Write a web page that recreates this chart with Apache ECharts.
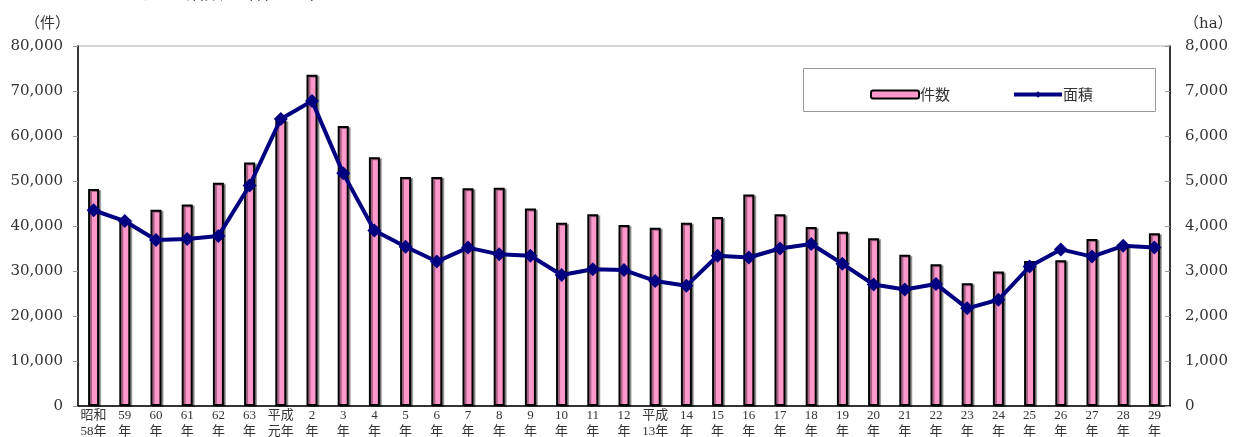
<!DOCTYPE html>
<html>
<head>
<meta charset="utf-8">
<script src="https://cdn.jsdelivr.net/npm/echarts@6/dist/echarts.min.js"></script>
<style>
html, body { margin: 0; padding: 0; background: #fff; }
#chart { width: 1244px; height: 437px; }
</style>
</head>
<body>
<div id="chart"></div>
<script>
// 年次ラベル
const years = [
    '昭和\n58年', '59\n年', '60\n年', '61\n年', '62\n年', '63\n年', '平成\n元年',
    '2\n年', '3\n年', '4\n年', '5\n年', '6\n年', '7\n年', '8\n年', '9\n年', '10\n年',
    '11\n年', '12\n年', '平成\n13年', '14\n年', '15\n年', '16\n年', '17\n年', '18\n年',
    '19\n年', '20\n年', '21\n年', '22\n年', '23\n年', '24\n年', '25\n年', '26\n年',
    '27\n年', '28\n年', '29\n年'
];
// 件数（件）
const counts = [
    48200, 41500, 43600, 44800, 49600, 54100, 63500, 73600, 62200, 55300, 50900, 50900,
    48400, 48500, 43900, 40700, 42600, 40200, 39600, 40700, 42000, 47000, 42600, 39800,
    38700, 37300, 33600, 31500, 27300, 29900, 32200, 32400, 37100, 36000, 38400
];
// 面積（ha）
const areas = [
    4350, 4110, 3690, 3710, 3780, 4900, 6380, 6780, 5170, 3900, 3540, 3210,
    3520, 3370, 3340, 2910, 3040, 3020, 2780, 2670, 3340, 3300, 3500, 3600,
    3160, 2700, 2590, 2710, 2170, 2360, 3100, 3480, 3320, 3560, 3520
];

const numFont = 'DejaVu Serif, Noto Sans CJK JP';
const fmt = v => v.toLocaleString('en-US');

const chart = echarts.init(document.getElementById('chart'));
chart.setOption({
    animation: false,
    grid: {
        left: 78, right: 74, top: 46, bottom: 31,
        outerBoundsMode: 'none',
        show: true, borderColor: '#c8c8c8', borderWidth: 1.5
    },
    legend: {
        left: 865, top: 82,
        itemWidth: 48, itemHeight: 8, itemGap: 62,
        textStyle: { fontFamily: 'Noto Sans CJK JP', fontSize: 15, color: '#333', padding: [0, 0, 0, -4] },
        data: ['件数', { name: '面積', lineStyle: { width: 4, color: '#000080' } }]
    },
    graphic: [
        {
            type: 'rect',
            shape: { x: 803.5, y: 68.5, width: 352, height: 43 },
            style: { fill: 'none', stroke: '#999', lineWidth: 1 }
        },
        {
            type: 'text',
            left: 143, top: -18,
            style: {
                text: '注　 指数は昭和58年 ＝ 100',
                font: '19px "Noto Sans CJK JP"',
                fill: '#222'
            }
        }
    ],
    xAxis: {
        type: 'category',
        data: years,
        axisLine: { lineStyle: { color: '#000', width: 1.5 } },
        axisTick: { inside: true, length: 4, lineStyle: { color: '#666' } },
        axisLabel: {
            interval: 0, margin: 2, fontFamily: 'Liberation Serif, Noto Sans CJK JP',
            fontSize: 13, lineHeight: 16, color: '#333'
        }
    },
    yAxis: [
        {
            type: 'value', min: 0, max: 80000, interval: 10000,
            name: '（件）', nameLocation: 'end', nameGap: 14,
            nameTextStyle: { align: 'right', padding: [0, 8, 0, 0], fontFamily: numFont, fontSize: 15, color: '#333' },
            axisLine: { show: true, lineStyle: { color: '#000', width: 1.5 } },
            axisTick: { show: true, length: 5, lineStyle: { color: '#999' } },
            splitLine: { show: false },
            axisLabel: { margin: 15, formatter: fmt, fontFamily: numFont, fontSize: 15, color: '#333' }
        },
        {
            type: 'value', min: 0, max: 8000, interval: 1000,
            name: '（ha）', nameLocation: 'end', nameGap: 14,
            nameTextStyle: { align: 'left', padding: [0, 0, 0, 14], fontFamily: numFont, fontSize: 15, color: '#333' },
            axisLine: { show: true, lineStyle: { color: '#000', width: 1.5 } },
            axisTick: { show: true, inside: true, length: 5, lineStyle: { color: '#999' } },
            splitLine: { show: false },
            axisLabel: { margin: 15, formatter: fmt, fontFamily: numFont, fontSize: 15, color: '#333' }
        }
    ],
    series: [
        {
            name: '件数',
            type: 'bar',
            data: counts,
            barWidth: 11,
            itemStyle: {
                color: '#ff99cc', borderColor: '#000', borderWidth: 2,
                shadowColor: 'rgba(0,0,0,0.35)', shadowOffsetX: 2, shadowOffsetY: 1
            }
        },
        {
            name: '面積',
            type: 'line',
            yAxisIndex: 1,
            data: areas,
            symbol: 'diamond',
            symbolSize: 14,
            lineStyle: { color: '#000080', width: 4 },
            itemStyle: { color: '#000080' }
        }
    ]
});
</script>
</body>
</html>
